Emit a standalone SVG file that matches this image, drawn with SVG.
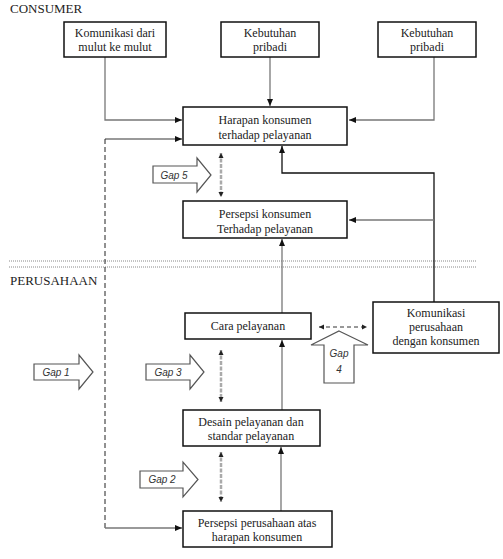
<svg xmlns="http://www.w3.org/2000/svg" width="503" height="559" viewBox="0 0 503 559">
<style>
.box{fill:#fff;stroke:#111;stroke-width:1.5}
.t{font-family:"Liberation Serif","Times New Roman",serif;font-size:12px;fill:#222;text-anchor:middle}
.h{font-family:"Liberation Serif","Times New Roman",serif;font-size:13px;fill:#222}
.g{font-family:"Liberation Sans",Arial,sans-serif;font-size:10px;font-style:italic;fill:#333;text-anchor:middle}
.gap{fill:#fff;stroke:#555;stroke-width:1.2}
.c{fill:none;stroke:#777;stroke-width:1.3}
.cb{fill:none;stroke:#111;stroke-width:1.3}
.d{fill:none;stroke:#222;stroke-width:1;stroke-dasharray:5,3}
.dd{fill:none;stroke:#aaa;stroke-width:2.5;stroke-dasharray:4,1.5}
.dh{fill:none;stroke:#333;stroke-width:1;stroke-dasharray:4,3}
.dot{fill:none;stroke:#888;stroke-width:1;stroke-dasharray:1,1}
</style>
<defs>
<marker id="a" markerWidth="8" markerHeight="8" refX="7" refY="4" orient="auto" markerUnits="userSpaceOnUse">
<path d="M0,1 L7,4 L0,7 Z" fill="#111"/>
</marker>
<marker id="s" markerWidth="6" markerHeight="6" refX="5" refY="3" orient="auto-start-reverse" markerUnits="userSpaceOnUse">
<path d="M0,0.5 L5,3 L0,5.5 Z" fill="#222"/>
</marker>
</defs>

<text class="h" x="10" y="13">CONSUMER</text>
<text class="h" x="10" y="285">PERUSAHAAN</text>
<line class="dot" x1="9" y1="261" x2="476" y2="261"/>
<line class="dot" x1="9" y1="267" x2="476" y2="267"/>

<g id="connectors">
<path class="c" d="M105,57 V120 H182" marker-end="url(#a)"/>
<path class="c" d="M270,57 V106" marker-end="url(#a)"/>
<path class="c" d="M434,57 V120 H349" marker-end="url(#a)"/>
<path class="c" d="M105,139 H182" marker-end="url(#a)"/>
<path class="d" d="M105,139 V528"/>
<path class="c" d="M105,528 H182" marker-end="url(#a)"/>
<path class="cb" d="M434,302 V173 H282 V146" marker-end="url(#a)"/>
<path class="c" d="M434,220 H349" marker-end="url(#a)"/>
<path class="c" d="M282,313 V239" marker-end="url(#a)"/>
<path class="c" d="M282,410 V340" marker-end="url(#a)"/>
<path class="c" d="M281,511 V447" marker-end="url(#a)"/>
<path class="dd" d="M221,153 V197" marker-start="url(#s)" marker-end="url(#s)"/>
<path class="dd" d="M221,350 V402" marker-start="url(#s)" marker-end="url(#s)"/>
<path class="dd" d="M221,452 V502" marker-start="url(#s)" marker-end="url(#s)"/>
<path class="dh" d="M319,327 H367" marker-start="url(#s)" marker-end="url(#s)"/>
</g>

<g id="n1"><rect class="box" x="64" y="22" width="102" height="35"/>
<text class="t" x="115" y="37">Komunikasi dari</text><text class="t" x="115" y="51">mulut ke mulut</text></g>
<g id="n2"><rect class="box" x="221" y="22" width="98" height="35"/>
<text class="t" x="270" y="37">Kebutuhan</text><text class="t" x="270" y="51">pribadi</text></g>
<g id="n3"><rect class="box" x="378" y="22" width="98" height="35"/>
<text class="t" x="427" y="37">Kebutuhan</text><text class="t" x="427" y="51">pribadi</text></g>
<g id="n4"><rect class="box" x="183" y="107" width="164" height="38"/>
<text class="t" x="265" y="124">Harapan konsumen</text><text class="t" x="265" y="139">terhadap pelayanan</text></g>
<g id="n5"><rect class="box" x="183" y="201" width="164" height="37"/>
<text class="t" x="265" y="218">Persepsi konsumen</text><text class="t" x="265" y="233">Terhadap pelayanan</text></g>
<g id="n6"><rect class="box" x="185" y="313" width="126" height="26"/>
<text class="t" x="248" y="330">Cara pelayanan</text></g>
<g id="n7"><rect class="box" x="373" y="302" width="126" height="51"/>
<text class="t" x="436" y="317">Komunikasi</text><text class="t" x="436" y="331">perusahaan</text><text class="t" x="436" y="345">dengan konsumen</text></g>
<g id="n8"><rect class="box" x="183" y="410" width="137" height="36"/>
<text class="t" x="251" y="426">Desain pelayanan dan</text><text class="t" x="251" y="440">standar pelayanan</text></g>
<g id="n9"><rect class="box" x="183" y="511" width="149" height="36"/>
<text class="t" x="257" y="527">Persepsi perusahaan atas</text><text class="t" x="257" y="541">harapan konsumen</text></g>

<g id="gap5"><polygon class="gap" points="153,166 197,166 197,158 211,175 197,192 197,183 153,183"/>
<text class="g" x="174" y="179">Gap 5</text></g>
<g id="gap1"><polygon class="gap" points="34,364 79,364 79,355 93,372 79,389 79,380 34,380"/>
<text class="g" x="56" y="376">Gap 1</text></g>
<g id="gap3"><polygon class="gap" points="146,364 190,364 190,355 204,372 190,389 190,380 146,380"/>
<text class="g" x="168" y="376">Gap 3</text></g>
<g id="gap2"><polygon class="gap" points="140,471 183,471 183,462 198,479.5 183,497 183,488 140,488"/>
<text class="g" x="162" y="483">Gap 2</text></g>
<g id="gap4"><polygon class="gap" points="339,331 368,345 354,345 354,383 324,383 324,345 311,345"/>
<text class="g" x="339" y="357">Gap</text><text class="g" x="339" y="373">4</text></g>
</svg>
